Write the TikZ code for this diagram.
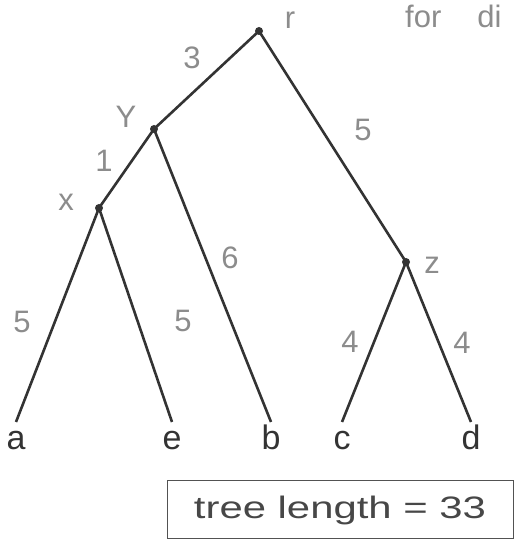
\documentclass[tikz,border=0pt]{standalone}
\usepackage{fontspec}
\setmainfont{Liberation Sans}
\usetikzlibrary{positioning}
\definecolor{ink}{HTML}{333333}
\definecolor{pencil}{HTML}{8C8C8C}
\tikzset{
  vert/.style={circle, fill=ink, inner sep=0pt, minimum size=8pt},
  leaf/.style={anchor=north, inner sep=2pt, text height=25pt, text depth=0pt,
               font=\fontsize{34}{34}\selectfont, text=ink},
  lbl/.style={text=pencil, inner sep=0pt, font=\fontsize{31}{31}\selectfont},
  branch/.style={draw=ink, line width=2.6pt},
  lenbox/.style={rectangle, draw=ink!85, line width=1pt, minimum width=346pt,
                 minimum height=58pt, text=ink!90, font=\fontsize{31}{31}\selectfont}
}

\begin{document}
\begin{tikzpicture}[x=1pt, y=1pt]
  \clip (0,0) rectangle (518,542);
  \node[vert] (r) at (259,511) {};
  \node[vert] (y) at (154,413) {};
  \node[vert] (x) at (99,334) {};
  \node[vert] (z) at (406,280) {};
  \node[leaf] (a) at (16,120) {a};
  \node[leaf] (e) at (172,120) {e};
  \node[leaf] (b) at (271,120) {b};
  \node[leaf] (c) at (342,120) {c};
  \node[leaf] (d) at (471,120) {d};
  \draw[branch] (r.center) -- (y.center) -- (x.center) -- (a.north);
  \draw[branch] (x.center) -- (e.north);
  \draw[branch] (y.center) -- (b.north);
  \draw[branch] (r.center) -- (z.center) -- (c.north);
  \draw[branch] (z.center) -- (d.north);
  \node[lbl] (rname) at (290,522) {r};
  \node[lbl] (yname) at (126,425) {Y};
  \node[lbl] (xname) at (66,340) {x};
  \node[lbl] (zname) at (432,277) {z};
  \node[lbl] (ry) at (192,484) {3};
  \node[lbl] (rz) at (363,412) {5};
  \node[lbl] (yx) at (104,381) {1};
  \node[lbl] (yb) at (230,284) {6};
  \node[lbl] (xa) at (22,220) {5};
  \node[lbl] (xe) at (183,221) {5};
  \node[lbl] (zc) at (350,200) {4};
  \node[lbl] (zd) at (462,199) {4};
  \node[lbl, anchor=base west] (note) at (405,514) {for\hspace{36pt}di};
  \node[lenbox] (total) at (340,32) {\scalebox{1.35}[1]{tree length = 33}};
\end{tikzpicture}
\end{document}
